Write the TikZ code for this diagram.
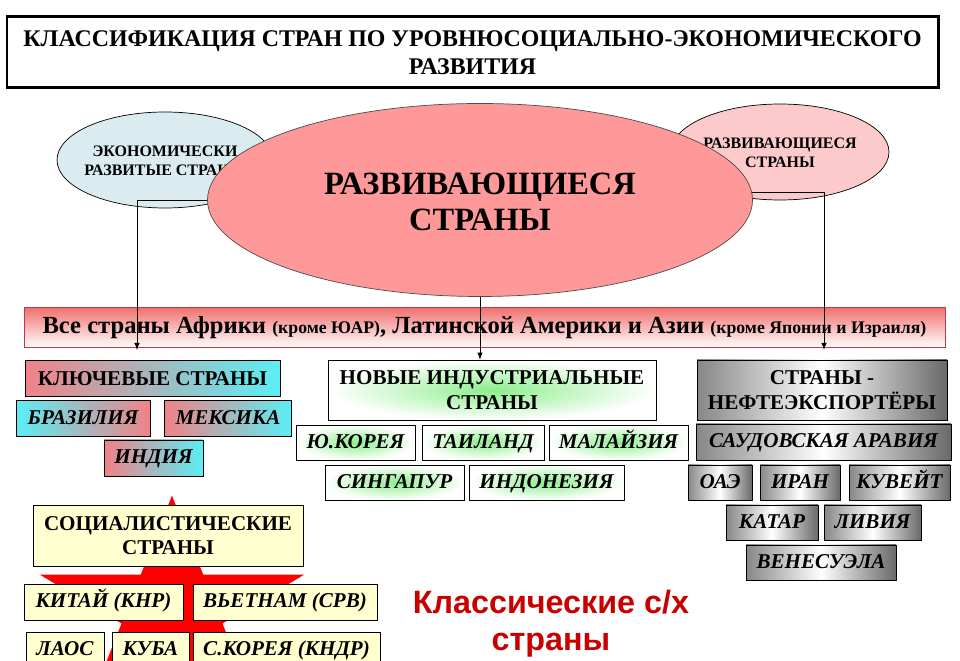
\documentclass[tikz,border=0pt]{standalone}
\usepackage{fontspec}
\setmainfont{Liberation Serif}
\newfontfamily\arialfont{Liberation Sans}
\usepackage{tikz}
\usetikzlibrary{shapes.geometric}
\definecolor{ovalblue}{RGB}{218,236,240}
\definecolor{ovalpink}{RGB}{252,202,202}
\definecolor{mainpink}{RGB}{255,153,153}
\definecolor{bandred}{RGB}{240,112,112}
\definecolor{bandedge}{RGB}{190,60,60}
\definecolor{keypink}{RGB}{240,130,135}
\definecolor{keycyan}{RGB}{90,238,245}
\definecolor{nicgreen}{RGB}{140,238,140}
\definecolor{oilgray}{RGB}{105,105,105}
\definecolor{soccream}{RGB}{255,255,208}
\definecolor{agrred}{RGB}{200,0,0}
\newlength{\pxunit}\setlength{\pxunit}{0.02cm}

\begin{document}
\begin{tikzpicture}[x=0.02cm,y=-0.02cm,
  box/.style={draw,inner sep=0pt,align=center,font=\fontsize{12}{14}\selectfont\bfseries},
  cbox/.style={box,text height=8.6pt,text depth=2pt,font=\fontsize{12}{14}\selectfont\bfseries\itshape},
  keyl/.style={left color=keypink,right color=keycyan},
  keyr/.style={left color=keycyan,right color=keypink},
  nic/.style={inner color=nicgreen,outer color=white},
  oil/.style={left color=oilgray!80,right color=oilgray,middle color=white},
  soc/.style={fill=soccream},
  oval/.style={ellipse,draw,inner sep=0pt},
  arr/.style={->,>=latex}]
\useasboundingbox (0,0) rectangle (960,661);
\clip (0,0) rectangle (960,661);

% title
\node[draw,line width=1.7pt,minimum width=931\pxunit,minimum height=71\pxunit,align=center,
  font=\fontsize{13.6}{15.8}\selectfont\bfseries] (title) at (472.5,52.5)
  {КЛАССИФИКАЦИЯ СТРАН ПО УРОВНЮСОЦИАЛЬНО-ЭКОНОМИЧЕСКОГО\\РАЗВИТИЯ};

% side ovals
\node[oval,fill=ovalblue,minimum width=216\pxunit,minimum height=96\pxunit] (devd) at (165,160) {};
\node[align=center,font=\fontsize{9.1}{10.8}\selectfont\bfseries] (devdtxt) at (165,161)
  {ЭКОНОМИЧЕСКИ\\РАЗВИТЫЕ СТРАНЫ};
\node[oval,fill=ovalpink,minimum width=218\pxunit,minimum height=96\pxunit] (devg) at (780,152) {};
\node[align=center,font=\fontsize{9.1}{10.8}\selectfont\bfseries] (devgtxt) at (780,153)
  {РАЗВИВАЮЩИЕСЯ\\СТРАНЫ};

% band
\node[draw=bandedge,top color=bandred,bottom color=white,minimum width=921\pxunit,
  minimum height=40\pxunit,inner sep=0pt,font=\fontsize{14}{15}\selectfont\bfseries] (band) at (484.5,327.5)
  {Все страны Африки {\fontsize{10.1}{11}\selectfont (кроме ЮАР)}, Латинской Америки и Азии {\fontsize{10.1}{11}\selectfont (кроме Японии и Израиля)}};

% connectors behind the big oval
\coordinate (mc) at (480,200);
\coordinate (mr) at (480,192);
\coordinate (keyend) at (137,350);
\coordinate (oilend) at (824,350);
\draw[arr] (mc) -| (keyend);
\draw[arr] (mr) -| (oilend);

\node[oval,fill=mainpink,draw=black!70,minimum width=545\pxunit,minimum height=193\pxunit] (main) at (mc) {};
\node[align=center,font=\fontsize{18.5}{20.5}\selectfont\bfseries] (maintxt) at (480,202)
  {РАЗВИВАЮЩИЕСЯ\\СТРАНЫ};

% key countries
\node[box,keyl,minimum width=255\pxunit,minimum height=36\pxunit] (key) at (152.5,378.5) {КЛЮЧЕВЫЕ СТРАНЫ};
\node[cbox,keyr,minimum width=134\pxunit,minimum height=36\pxunit] (braz) at (83,418.5) {БРАЗИЛИЯ};
\node[cbox,keyl,minimum width=127\pxunit,minimum height=36\pxunit] (mex) at (228,418.5) {МЕКСИКА};
\node[cbox,keyl,minimum width=99\pxunit,minimum height=36\pxunit] (ind) at (153.5,458) {ИНДИЯ};

% new industrial
\node[box,nic,minimum width=328\pxunit,minimum height=60\pxunit] (nis) at (492,390) {НОВЫЕ ИНДУСТРИАЛЬНЫЕ\\СТРАНЫ};
\draw[arr] (main.south) -- (main.south |- nis.north);
\node[cbox,nic,minimum width=119\pxunit,minimum height=35\pxunit] (kor) at (355.5,442.5) {Ю.КОРЕЯ};
\node[cbox,nic,minimum width=122\pxunit,minimum height=35\pxunit] (tai) at (483,442.5) {ТАИЛАНД};
\node[cbox,nic,minimum width=139\pxunit,minimum height=35\pxunit] (mal) at (618.5,442.5) {МАЛАЙЗИЯ};
\node[cbox,nic,minimum width=139\pxunit,minimum height=35\pxunit] (sin) at (394.5,482.5) {СИНГАПУР};
\node[cbox,nic,minimum width=155\pxunit,minimum height=35\pxunit] (indo) at (546.5,482.5) {ИНДОНЕЗИЯ};

% oil exporters
\node[box,oil,minimum width=250\pxunit,minimum height=60\pxunit] (oilx) at (822,390) {СТРАНЫ -\\НЕФТЕЭКСПОРТЁРЫ};
\node[cbox,oil,minimum width=255\pxunit,minimum height=36\pxunit] (saud) at (823.5,442) {САУДОВСКАЯ АРАВИЯ};
\node[cbox,oil,minimum width=64\pxunit,minimum height=35\pxunit] (oae) at (720,482.5) {ОАЭ};
\node[cbox,oil,minimum width=80\pxunit,minimum height=35\pxunit] (iran) at (800,482.5) {ИРАН};
\node[cbox,oil,minimum width=101\pxunit,minimum height=35\pxunit] (kuw) at (899.5,482.5) {КУВЕЙТ};
\node[cbox,oil,minimum width=92\pxunit,minimum height=35\pxunit] (qat) at (772,522.5) {КАТАР};
\node[cbox,oil,minimum width=97\pxunit,minimum height=35\pxunit] (lib) at (872.5,522.5) {ЛИВИЯ};
\node[cbox,oil,minimum width=150\pxunit,minimum height=35\pxunit] (ven) at (821,562.5) {ВЕНЕСУЭЛА};

% red star behind socialist countries
\fill[red] (172,495.6) -- (140.8,574.6) -- (39.8,574.6) -- (121.5,623.5) -- (90.3,702.5)
  -- (172,653.7) -- (253.7,702.5) -- (222.5,623.5) -- (304.2,574.6) -- (203.2,574.6) -- cycle;

% socialist
\node[box,soc,minimum width=270\pxunit,minimum height=61\pxunit] (soc) at (168,535.5) {СОЦИАЛИСТИЧЕСКИЕ\\СТРАНЫ};
\node[cbox,soc,minimum width=159\pxunit,minimum height=36\pxunit] (chn) at (103.5,602) {КИТАЙ (КНР)};
\node[cbox,soc,minimum width=184\pxunit,minimum height=36\pxunit] (vie) at (285,602) {ВЬЕТНАМ (СРВ)};
\node[cbox,soc,minimum width=78\pxunit,minimum height=36\pxunit] (lao) at (65,650) {ЛАОС};
\node[cbox,soc,minimum width=77\pxunit,minimum height=36\pxunit] (cub) at (150.5,650) {КУБА};
\node[cbox,soc,minimum width=187\pxunit,minimum height=36\pxunit] (nkor) at (286.5,650) {С.КОРЕЯ (КНДР)};

% agrarian
\node[align=center,text=agrred,font=\arialfont\fontsize{18.4}{21}\selectfont\bfseries] (agr) at (551,624)
  {Классические с/х\\страны};
\end{tikzpicture}
\end{document}
